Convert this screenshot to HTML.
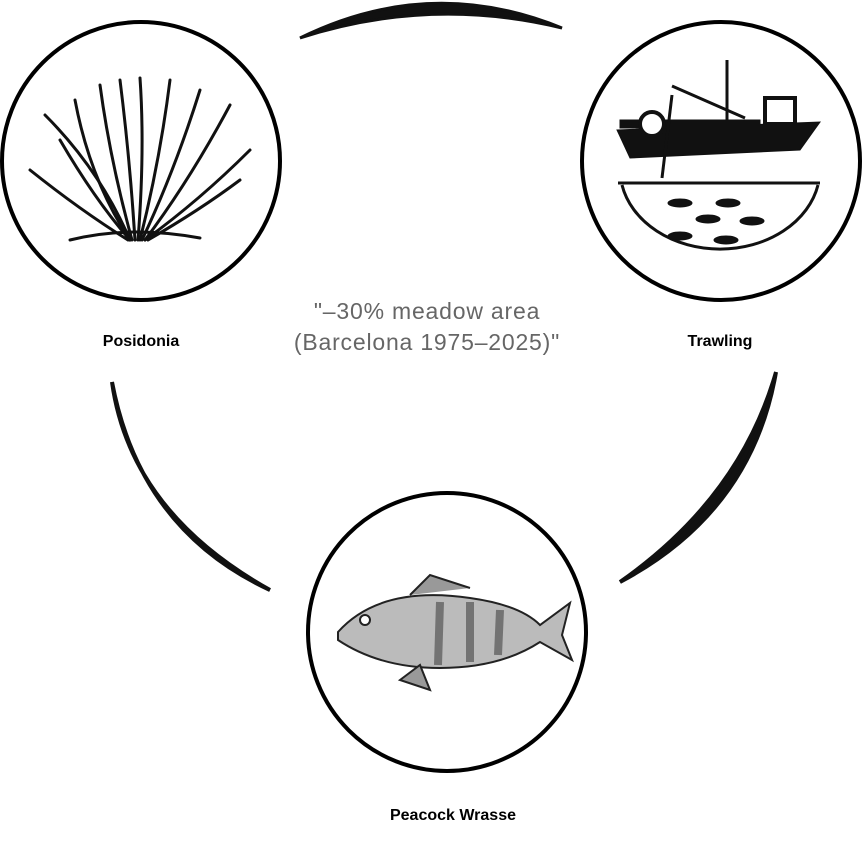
<!DOCTYPE html>
<html><head><meta charset="utf-8"><style>
html,body{margin:0;padding:0;background:#fff;}
body{width:863px;height:844px;position:relative;overflow:hidden;font-family:"Liberation Sans",sans-serif;}
.lbl{position:absolute;font-weight:bold;font-size:16px;color:#000;text-align:center;width:200px;}
.mid{position:absolute;left:177px;top:296px;width:500px;text-align:center;color:#666;font-size:23px;line-height:31px;letter-spacing:0.8px;}
</style></head><body>
<svg width="863" height="844" style="position:absolute;left:0;top:0">
<path d="M300,38 Q430,-26 562,28 Q430,-4 300,38Z" fill="#111" stroke="#111" stroke-width="3"/>
<path d="M112,382 Q140,530 270,590 Q130,512 112,382Z" fill="#111" stroke="#111" stroke-width="4"/>
<path d="M776,372 Q752,512 620,582 Q740,498 776,372Z" fill="#111" stroke="#111" stroke-width="4"/>
<circle cx="141" cy="161" r="139" fill="none" stroke="#000" stroke-width="4"/>
<circle cx="721" cy="161" r="139" fill="none" stroke="#000" stroke-width="4"/>
<circle cx="447" cy="632" r="139" fill="none" stroke="#000" stroke-width="4"/>
<g stroke="#111" stroke-width="3" fill="none" stroke-linecap="round">
<path d="M130,240 Q100,170 45,115"/><path d="M130,240 Q90,180 75,100"/><path d="M132,240 Q110,160 100,85"/>
<path d="M135,240 Q130,160 120,80"/><path d="M138,240 Q145,150 140,78"/><path d="M140,240 Q160,160 170,80"/>
<path d="M142,240 Q175,170 200,90"/><path d="M145,240 Q190,180 230,105"/><path d="M145,240 Q200,200 250,150"/>
<path d="M128,240 Q80,210 30,170"/><path d="M130,240 Q95,200 60,140"/><path d="M148,240 Q200,210 240,180"/>
<path d="M70,240 Q130,225 200,238"/>
</g>
<g fill="#111" stroke="#111">
<path d="M617,130 L820,122 L800,150 L630,158Z"/>
<rect x="620" y="120" width="140" height="8"/>
<circle cx="652" cy="124" r="12" fill="#fff" stroke-width="4"/>
<rect x="765" y="98" width="30" height="26" fill="#fff" stroke-width="4"/>
<line x1="727" y1="60" x2="727" y2="130" stroke-width="3"/>
<line x1="672" y1="86" x2="745" y2="118" stroke-width="3"/>
<line x1="672" y1="95" x2="662" y2="178" stroke-width="3"/>
<line x1="618" y1="183" x2="820" y2="183" stroke-width="3"/>
<path d="M622,185 A100,80 0 0 0 818,185" fill="none" stroke-width="3"/>
<ellipse cx="680" cy="203" rx="12" ry="4"/><ellipse cx="728" cy="203" rx="12" ry="4"/>
<ellipse cx="708" cy="219" rx="12" ry="4"/><ellipse cx="752" cy="221" rx="12" ry="4"/>
<ellipse cx="680" cy="236" rx="12" ry="4"/><ellipse cx="726" cy="240" rx="12" ry="4"/>
</g>
<g stroke="#222" stroke-width="2">
<path d="M338,632 Q380,585 470,598 Q520,605 540,625 L570,603 L562,635 L572,660 L540,642 Q500,668 440,668 Q380,668 338,640Z" fill="#bbb"/>
<path d="M410,595 L430,575 L470,588" fill="#999"/>
<path d="M400,680 L420,665 L430,690Z" fill="#999"/>
<circle cx="365" cy="620" r="5" fill="#fff"/>
<path d="M440,602 L438,665 M470,602 L470,662 M500,610 L498,655" stroke="#444" stroke-width="8" opacity="0.6"/>
</g>
</svg>
<div class="lbl" style="left:41px;top:333px">Posidonia</div>
<div class="lbl" style="left:620px;top:333px">Trawling</div>
<div class="lbl" style="left:353px;top:807px">Peacock Wrasse</div>
<div class="mid">"–30% meadow area<br>(Barcelona 1975–2025)"</div>
</body></html>
